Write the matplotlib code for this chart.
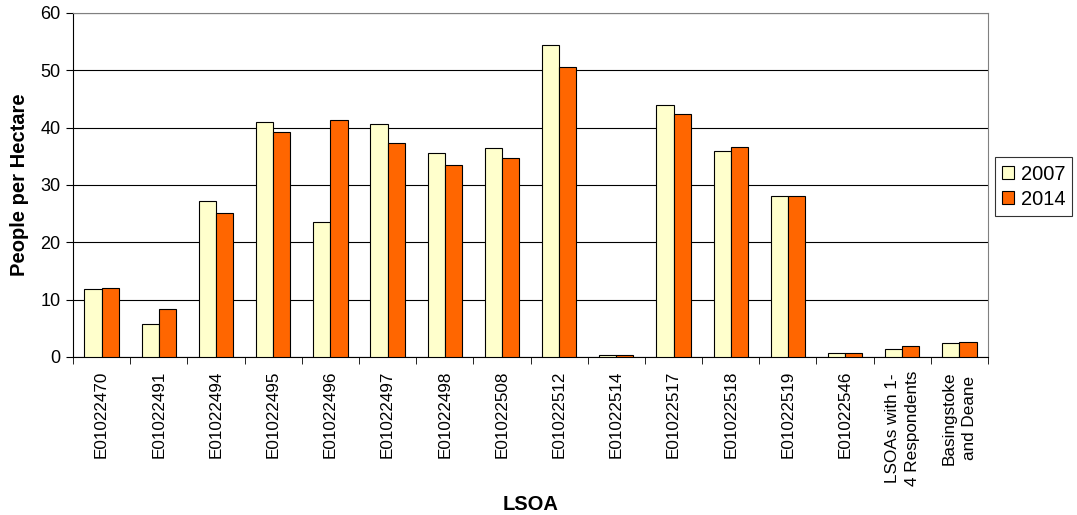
import matplotlib.pyplot as plt
import numpy as np

plt.rcParams['font.family'] = ['Liberation Sans', 'DejaVu Sans']

lsoas = ['E01022470', 'E01022491', 'E01022494', 'E01022495', 'E01022496',
         'E01022497', 'E01022498', 'E01022508', 'E01022512', 'E01022514',
         'E01022517', 'E01022518', 'E01022519', 'E01022546',
         'LSOAs with 1-\n4 Respondents', 'Basingstoke\nand Deane']

density_2007 = [11.9, 5.7, 27.2, 40.9, 23.5, 40.7, 35.5, 36.4, 54.5, 0.4,
                44.0, 36.0, 28.1, 0.75, 1.45, 2.45]
density_2014 = [12.1, 8.35, 25.1, 39.3, 41.4, 37.3, 33.4, 34.7, 50.6, 0.35,
                42.4, 36.6, 28.1, 0.75, 1.85, 2.6]

x = np.arange(len(lsoas))
width = 0.3

fig = plt.figure(figsize=(10.77, 5.15), dpi=100)
ax = fig.add_axes([0.0678, 0.3068, 0.8496, 0.668])

ax.bar(x - width / 2, density_2007, width, color='#FFFFCC', edgecolor='black',
       linewidth=0.8, label='2007', zorder=3)
ax.bar(x + width / 2, density_2014, width, color='#FF6600', edgecolor='black',
       linewidth=0.8, label='2014', zorder=3)

ax.set_xlim(-0.5, len(lsoas) - 0.5)
ax.set_ylim(0, 60)
ax.set_yticks(range(0, 61, 10))
ax.yaxis.grid(True, color='black', linewidth=0.8, zorder=0)

# labels in the middle, tick marks at the category boundaries
ax.set_xticks(x)
ax.set_xticklabels(lsoas, rotation=90, fontsize=12.3, va='top', ha='center',
                   multialignment='center', linespacing=1.45)
ax.tick_params(axis='x', which='major', length=0, pad=10)
ax.set_xticks(np.arange(-0.5, len(lsoas), 1), minor=True)
ax.tick_params(axis='x', which='minor', length=5, direction='out')
ax.tick_params(axis='y', labelsize=13, length=5, direction='out', pad=4)

for s in ['top', 'right']:
    ax.spines[s].set_color('#808080')
ax.spines['bottom'].set_color('black')

ax.set_ylabel('People per Hectare', fontsize=14.5, fontweight='bold', labelpad=8)
ax.set_xlabel('LSOA', fontsize=14.5, fontweight='bold')
ax.xaxis.set_label_coords(0.5, -0.43)
ax.xaxis.label.set_va('center')

leg = ax.legend(loc='upper left', bbox_to_anchor=(1.008, 0.58), fontsize=14.5,
                frameon=True, fancybox=False, edgecolor='black',
                handlelength=0.6, handleheight=0.6, handletextpad=0.3,
                borderpad=0.35, labelspacing=0.3, borderaxespad=0)
leg.get_frame().set_linewidth(0.8)

fig.savefig('out.png', dpi=100)
